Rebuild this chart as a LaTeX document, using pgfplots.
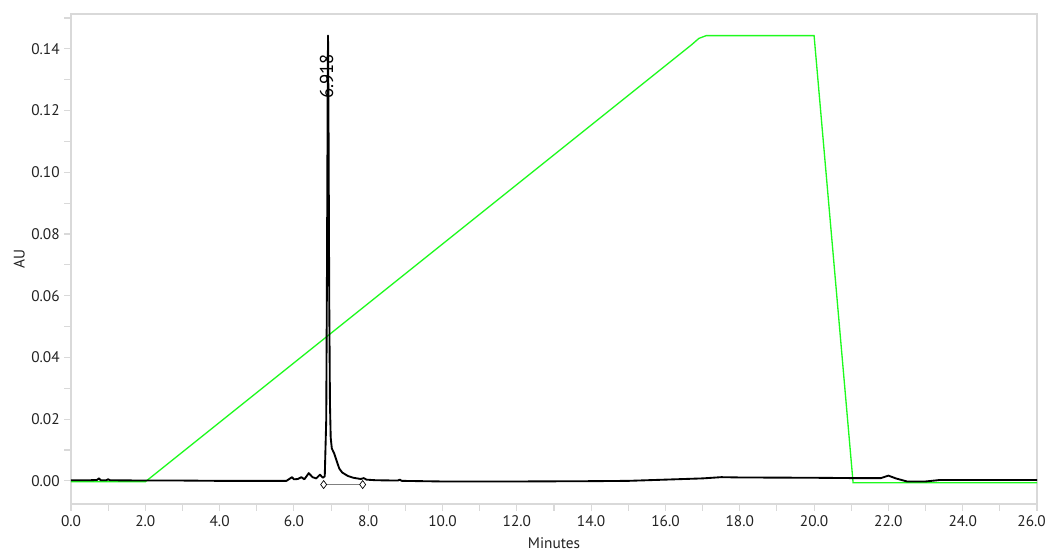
\documentclass[border=0pt]{standalone}
\usepackage{pgfplots}
\pgfplotsset{compat=1.18}
\usepackage{fontspec}
\setmainfont{PT Sans}
\definecolor{gridgray}{HTML}{D9D9D9}
\definecolor{txtgray}{HTML}{222222}
\definecolor{gradgreen}{HTML}{1EFA1E}
\begin{document}
\begin{tikzpicture}
\useasboundingbox (-53.25pt,-35.25pt) rectangle ++(784.5pt,413.25pt);
\begin{axis}[
  at={(0pt,0pt)}, anchor=south west,
  scale only axis,
  width=724.5pt, height=367.5pt,
  xmin=0, xmax=26, ymin=-0.0075, ymax=0.1513,
  xtick={0,2,...,24}, minor xtick={1,3,...,25},
  extra x ticks={26},
  extra x tick style={xticklabel style={xshift=-4pt}},
  ytick={0,0.02,...,0.14}, minor ytick={0.01,0.03,...,0.15},
  axis line style={gridgray, line width=0.8pt},
  tick style={gridgray, line width=0.8pt},
  major tick length=5pt, minor tick length=5pt,
  tick align=outside,
  xtick pos=bottom, ytick pos=left,
  xticklabel style={/pgf/number format/fixed, /pgf/number format/fixed zerofill, /pgf/number format/precision=1},
  yticklabel style={/pgf/number format/fixed, /pgf/number format/fixed zerofill, /pgf/number format/precision=2},
  /pgf/number format/assume math mode=true,
  ticklabel style={font=\fontsize{11.5}{13}\selectfont, text=txtgray},
  label style={font=\fontsize{11.5}{13}\selectfont, text=txtgray},
  xlabel={Minutes}, ylabel={AU},
  xlabel style={at={(axis description cs:0.5,0)}, anchor=center, yshift=-29.5pt},
  ylabel style={yshift=-2pt},
  clip=false,
]
\addplot[gradgreen, line width=1pt] coordinates {
(0,-0.0003)(2.0,-0.0003)(16.7,0.1413)(16.9,0.1434)(17.1,0.1443)(20.0,0.1443)(21.05,-0.0006)(26,-0.0006)};
\addplot[black, line width=1.4pt, line join=round] coordinates {
(0,0.0002)(0.5,0.0002)(0.7,0.0003)(0.75,0.0008)(0.8,0.0002)(0.95,0.0002)(1.0,0.0005)(1.05,0.0002)
(2.0,0.0001)(3.0,0.0001)(4.0,0.0)(5.0,0.0)(5.8,0.0)(5.9,0.0008)(5.95,0.0012)(6.0,0.0005)
(6.1,0.0006)(6.2,0.0012)(6.28,0.0005)(6.4,0.0025)(6.5,0.0012)(6.6,0.0008)(6.7,0.002)(6.78,0.001)
(6.83,0.0015)(6.87,0.02)(6.89,0.07)(6.91,0.13)(6.918,0.1443)(6.93,0.12)(6.95,0.06)(6.97,0.025)
(6.99,0.014)(7.02,0.0105)(7.08,0.009)(7.15,0.0065)(7.22,0.004)(7.3,0.0027)(7.45,0.0016)(7.6,0.001)
(7.8,0.0006)(7.88,0.0009)(7.95,0.0004)(8.2,0.0002)(8.8,0.0001)(8.85,0.0004)(8.9,0.0)
(10,-0.0002)(12,-0.0002)(14,-0.0001)(15,0.0)(16,0.0004)(17,0.0008)(17.5,0.0012)(18,0.0011)
(20,0.001)(21,0.0009)(21.8,0.0009)(22.0,0.0017)(22.2,0.0008)(22.5,-0.0002)(23.0,-0.0002)
(23.4,0.0003)(26,0.0003)};
\addplot[gray, line width=0.6pt, mark=diamond*, mark size=3pt, mark options={draw=black, fill=white, line width=0.5pt}] coordinates {(6.8,-0.0012)(7.85,-0.0012)};
\node[rotate=90, font=\fontsize{14}{16}\selectfont, inner sep=0pt] at (axis cs:6.88,0.1310) {6.918};
\end{axis}
\end{tikzpicture}
\end{document}
